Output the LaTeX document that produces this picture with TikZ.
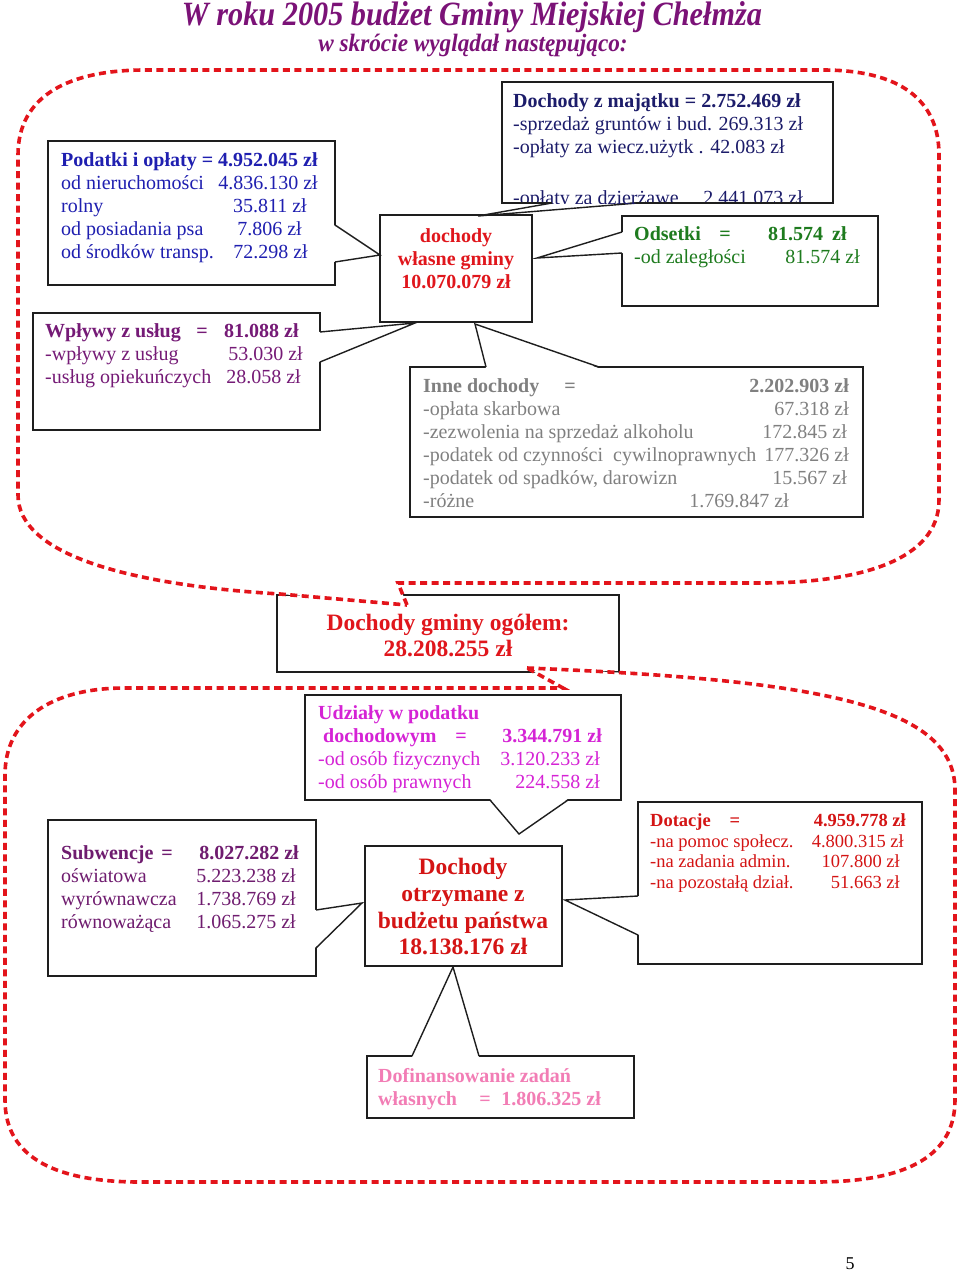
\documentclass[tikz,border=0pt]{standalone}
\usepackage{fontspec}
\setmainfont{Liberation Serif}
\usetikzlibrary{calc}
\definecolor{regc}{HTML}{E3141B}
\definecolor{boxc}{HTML}{1E1E1E}
\definecolor{cTitle}{HTML}{7B1277}
\definecolor{cPod}{HTML}{1F1FB0}
\definecolor{cMaj}{HTML}{1C1C6A}
\definecolor{cRed}{HTML}{E0161C}
\definecolor{cOds}{HTML}{1E7B1E}
\definecolor{cWpl}{HTML}{751A76}
\definecolor{cInn}{HTML}{808080}
\definecolor{cUdz}{HTML}{D523D5}
\definecolor{cSub}{HTML}{6F1C6F}
\definecolor{cDot}{HTML}{D41414}
\definecolor{cDof}{HTML}{F27DB5}
\newcommand\mkwdg[4]{%
  \fill[white] ($#1+#4$) -- #2 -- ($#3+#4$) -- cycle;
  \draw[wline] ($#1$) -- #2 -- ($#3$);}
\tikzset{
  box/.style={draw=boxc, line width=1.4pt, fill=white, inner sep=0pt, outer sep=0pt, anchor=north west},
  dregion/.style={draw=regc, line width=3.6pt, dash pattern=on 7pt off 4.5pt, fill=white},
  wline/.style={draw=boxc, line width=1.4pt, line join=miter},
  txl/.style={inner sep=0pt, anchor=base west, font=\fontsize{20}{23}\selectfont},
  txr/.style={inner sep=0pt, anchor=base east, font=\fontsize{20}{23}\selectfont},
  txc/.style={inner sep=0pt, anchor=base, font=\fontsize{20}{23}\selectfont},
  txb/.style={font=\fontsize{20}{23}\selectfont\bfseries},
  big/.style={inner sep=0pt, anchor=base, font=\fontsize{23.5}{26}\selectfont\bfseries},
  sml/.style={font=\fontsize{18.5}{21}\selectfont},
  smlb/.style={font=\fontsize{18.5}{21}\selectfont\bfseries},
}
\begin{document}
\begin{tikzpicture}[x=1pt,y=-1pt]
\useasboundingbox (0,0) rectangle (960,1272);
% title
\node[inner sep=0pt, anchor=base, text=cTitle, font=\fontsize{34}{36}\selectfont\bfseries\itshape] (title) at (472,25) {\scalebox{0.89}[1]{W roku 2005 budżet Gminy Miejskiej Chełmża}};
\node[inner sep=0pt, anchor=base, text=cTitle, font=\fontsize{25}{27}\selectfont\bfseries\itshape] (subtitle) at (473,51) {\scalebox{0.93}[1]{w skrócie wyglądał następująco:}};
% central box
\node[box, minimum width=342pt, minimum height=77pt] (dgo) at (277,595) {};
% regions
\path[dregion] (407,605) -- (398,583) -- (760,583) .. controls (860,583) and (939,560) .. (939,500) -- (939,155) .. controls (939,100) and (900,70) .. (823,70) -- (145,70) .. controls (70,70) and (18,95) .. (18,155) -- (18,495) .. controls (18,555) and (130,585) .. (280,594) -- cycle;
\path[dregion] (527,668) .. controls (820,680) and (955,705) .. (955,790) -- (955,1100) .. controls (955,1160) and (900,1182) .. (815,1182) -- (140,1182) .. controls (60,1182) and (5,1160) .. (5,1100) -- (5,775) .. controls (5,720) and (50,688) .. (125,688) -- (563,688) -- cycle;
% boxes
\node[box, minimum width=287pt, minimum height=144pt] (pod) at (48,141) {};
\node[box, minimum width=152pt, minimum height=107pt] (dwl) at (380,215) {};
\node[box, minimum width=331pt, minimum height=121pt] (maj) at (502,82) {};
\node[box, minimum width=256pt, minimum height=90pt] (ods) at (622,216) {};
\node[box, minimum width=287pt, minimum height=117pt] (wpl) at (33,313) {};
\node[box, minimum width=453pt, minimum height=150pt] (inn) at (410,367) {};
\node[box, minimum width=316pt, minimum height=105pt] (udz) at (305,695) {};
\node[box, minimum width=268pt, minimum height=156pt] (sub) at (48,820) {};
\node[box, minimum width=197pt, minimum height=120pt] (dot) at (365,846) {};
\node[box, minimum width=284pt, minimum height=162pt] (dtc) at (638,802) {};
\node[box, minimum width=267pt, minimum height=62pt] (dof) at (367,1056) {};
% wedge tips
\coordinate (tpod) at ($(dwl.north west)+(0,40)$);
\coordinate (tmaj) at ($(dwl.north west)+(98,1)$);
\coordinate (tods) at ($(dwl.north east)+(5,43)$);
\coordinate (twpl) at ($(dwl.south west)+(35,1)$);
\coordinate (tinn) at ($(dwl.south west)+(95,2)$);
\coordinate (tudz) at ($(dot.north west)+(154,-12)$);
\coordinate (tsub) at ($(dot.north west)+(-3,57)$);
\coordinate (tdtc) at ($(dot.north east)+(3,54)$);
\coordinate (tdof) at ($(dot.south west)+(88,1)$);
% wedges
\mkwdg{(pod.north east)+(0,84)}{(tpod)}{(pod.north east)+(0,121)}{(-1.2,0)}
\mkwdg{(maj.south west)+(50,0)}{(tmaj)}{(maj.south west)+(136,0)}{(0,-1.2)}
\mkwdg{(ods.north west)+(0,16)}{(tods)}{(ods.north west)+(0,37)}{(1.2,0)}
\mkwdg{(wpl.north east)+(0,19)}{(twpl)}{(wpl.north east)+(0,49)}{(-1.2,0)}
\mkwdg{(inn.north west)+(76,0)}{(tinn)}{(inn.north west)+(189,0)}{(0,1.2)}
\mkwdg{(udz.south west)+(185,0)}{(tudz)}{(udz.south west)+(263,0)}{(0,-1.2)}
\mkwdg{(sub.north east)+(0,90)}{(tsub)}{(sub.north east)+(0,128)}{(-1.2,0)}
\mkwdg{(dtc.north west)+(0,94)}{(tdtc)}{(dtc.north west)+(0,133)}{(1.2,0)}
\mkwdg{(dof.north west)+(45,0)}{(tdof)}{(dof.north west)+(112,0)}{(0,1.2)}
% Podatki
\node[txl,txb,text=cPod] (p0) at (61,166) {Podatki i opłaty = 4.952.045 zł};
\node[txl,text=cPod] (p1) at (61,189) {od nieruchomości};
\node[txr,text=cPod] (p1v) at (318,189) {4.836.130 zł};
\node[txl,text=cPod] (p2) at (61,212) {rolny};
\node[txr,text=cPod] (p2v) at (307,212) {35.811 zł};
\node[txl,text=cPod] (p3) at (61,235) {od posiadania psa};
\node[txr,text=cPod] (p3v) at (302,235) {7.806 zł};
\node[txl,text=cPod] (p4) at (61,258) {od środków transp.};
\node[txr,text=cPod] (p4v) at (308,258) {72.298 zł};
% dochody wlasne
\node[txc,txb,text=cRed] (w1) at (456,242) {dochody};
\node[txc,txb,text=cRed] (w2) at (456,265) {własne gminy};
\node[txc,txb,text=cRed] (w3) at (456,288) {10.070.079 zł};
% majatek (clipped)
\begin{scope}
\clip (maj.north west) rectangle (maj.south east);
\node[txl,txb,text=cMaj] (m0) at (513,107) {Dochody z majątku = 2.752.469 zł};
\node[txl,text=cMaj] (m1) at (513,130) {-sprzedaż gruntów i bud. 269.313 zł};
\node[txl,text=cMaj] (m2) at (513,153) {-opłaty za wiecz.użytk . 42.083 zł};
\node[txl,text=cMaj] (m3) at (513,204) {-opłaty za dzierżawe};
\node[txr,text=cMaj] (m3v) at (803,204) {2.441.073 zł};
\end{scope}
\draw[line width=1.4pt, draw=boxc] (maj.south west) -- ($(maj.south west)+(50,0)$);
\draw[line width=1.4pt, draw=boxc] ($(maj.south west)+(136,0)$) -- (maj.south east);
% odsetki
\node[txl,txb,text=cOds] (o0) at (634,240) {Odsetki};
\node[txc,txb,text=cOds] (o0e) at (725,240) {=};
\node[txl,txb,text=cOds] (o0v) at (768,240) {81.574\hspace{9pt}zł};
\node[txl,text=cOds] (o1) at (634,263) {-od zaległości};
\node[txr,text=cOds] (o1v) at (860,263) {81.574 zł};
% wplywy
\node[txl,txb,text=cWpl] (u0) at (45,337) {Wpływy z usług};
\node[txc,txb,text=cWpl] (u0e) at (202,337) {=};
\node[txl,txb,text=cWpl] (u0v) at (224,337) {81.088 zł};
\node[txl,text=cWpl] (u1) at (45,360) {-wpływy z usług};
\node[txr,text=cWpl] (u1v) at (303,360) {53.030 zł};
\node[txl,text=cWpl] (u2) at (45,383) {-usług opiekuńczych};
\node[txr,text=cWpl] (u2v) at (301,383) {28.058 zł};
% inne
\node[txl,txb,text=cInn] (i0) at (423,392) {Inne dochody};
\node[txc,txb,text=cInn] (i0e) at (570,392) {=};
\node[txr,txb,text=cInn] (i0v) at (849,392) {2.202.903 zł};
\node[txl,text=cInn] (i1) at (423,415) {-opłata skarbowa};
\node[txr,text=cInn] (i1v) at (849,415) {67.318 zł};
\node[txl,text=cInn] (i2) at (423,438) {-zezwolenia na sprzedaż alkoholu};
\node[txr,text=cInn] (i2v) at (847,438) {172.845 zł};
\node[txl,text=cInn] (i3) at (423,461) {-podatek od czynności\ \ cywilnoprawnych};
\node[txr,text=cInn] (i3v) at (849,461) {177.326 zł};
\node[txl,text=cInn] (i4) at (423,484) {-podatek od spadków, darowizn};
\node[txr,text=cInn] (i4v) at (847,484) {15.567 zł};
\node[txl,text=cInn] (i5) at (423,507) {-różne};
\node[txr,text=cInn] (i5v) at (789,507) {1.769.847 zł};
% dochody ogolem
\node[big,text=cRed] (g1) at (448,630) {Dochody gminy ogółem:};
\node[big,text=cRed] (g2) at (448,656) {28.208.255 zł};
% udzialy
\node[txl,txb,text=cUdz] (d0) at (318,719) {Udziały w podatku};
\node[txl,txb,text=cUdz] (d1) at (323,742) {dochodowym};
\node[txc,txb,text=cUdz] (d1e) at (461,742) {=};
\node[txr,txb,text=cUdz] (d1v) at (602,742) {3.344.791 zł};
\node[txl,text=cUdz] (d2) at (318,765) {-od osób fizycznych};
\node[txr,text=cUdz] (d2v) at (600,765) {3.120.233 zł};
\node[txl,text=cUdz] (d3) at (318,788) {-od osób prawnych};
\node[txr,text=cUdz] (d3v) at (600,788) {224.558 zł};
% subwencje
\node[txl,txb,text=cSub] (s0) at (61,859) {Subwencje};
\node[txc,txb,text=cSub] (s0e) at (167,859) {=};
\node[txr,txb,text=cSub] (s0v) at (299,859) {8.027.282 zł};
\node[txl,text=cSub] (s1) at (61,882) {oświatowa};
\node[txr,text=cSub] (s1v) at (296,882) {5.223.238 zł};
\node[txl,text=cSub] (s2) at (61,905) {wyrównawcza};
\node[txr,text=cSub] (s2v) at (296,905) {1.738.769 zł};
\node[txl,text=cSub] (s3) at (61,928) {równoważąca};
\node[txr,text=cSub] (s3v) at (296,928) {1.065.275 zł};
% dochody otrzymane
\node[big,text=cDot] (r1) at (463,874) {Dochody};
\node[big,text=cDot] (r2) at (463,901) {otrzymane z};
\node[big,text=cDot] (r3) at (463,928) {budżetu państwa};
\node[big,text=cDot] (r4) at (463,954) {18.138.176 zł};
% dotacje
\node[txl,smlb,text=cDot] (c0) at (650,826) {Dotacje};
\node[txc,smlb,text=cDot] (c0e) at (735,826) {=};
\node[txr,smlb,text=cDot] (c0v) at (906,826) {4.959.778 zł};
\node[txl,sml,text=cDot] (c1) at (650,847) {-na pomoc społecz.};
\node[txr,sml,text=cDot] (c1v) at (904,847) {4.800.315 zł};
\node[txl,sml,text=cDot] (c2) at (650,867) {-na zadania admin.};
\node[txr,sml,text=cDot] (c2v) at (900,867) {107.800 zł};
\node[txl,sml,text=cDot] (c3) at (650,888) {-na pozostałą dział.};
\node[txr,sml,text=cDot] (c3v) at (900,888) {51.663 zł};
% dofinansowanie
\node[txl,txb,text=cDof] (f0) at (378,1082) {Dofinansowanie zadań};
\node[txl,txb,text=cDof] (f1) at (378,1105) {własnych};
\node[txc,txb,text=cDof] (f1e) at (485,1105) {=};
\node[txr,txb,text=cDof] (f1v) at (601,1105) {1.806.325 zł};
% page number
\node[inner sep=0pt, anchor=base, font=\fontsize{18}{20}\selectfont] (pg) at (850,1269) {5};
\end{tikzpicture}
\end{document}
